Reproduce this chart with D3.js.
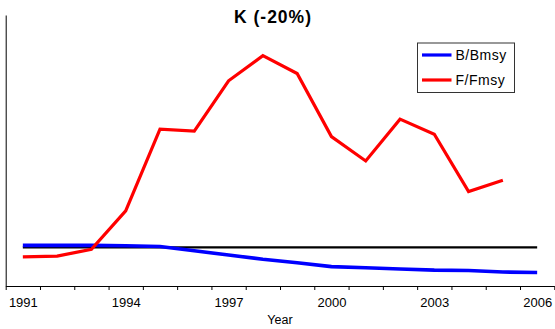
<!DOCTYPE html>
<html>
<head>
<meta charset="utf-8">
<script src="https://cdn.jsdelivr.net/npm/d3@7"></script>
<style>
  html, body { margin: 0; padding: 0; background: #fff; }
  svg { display: block; font-family: "Liberation Sans", Arial, sans-serif; }
</style>
</head>
<body>
<svg id="chart" width="555" height="329"></svg>
<script>
// Stock status ratios by year
const years = d3.range(1991, 2007);
const bBmsy = [1.05, 1.05, 1.05, 1.04, 1.02, 0.91, 0.80, 0.69, 0.60, 0.50, 0.47, 0.44, 0.41, 0.40, 0.36, 0.35];
const fFmsy = [0.75, 0.77, 0.95, 1.94, 4.05, 4.00, 5.30, 5.95, 5.49, 3.86, 3.23, 4.31, 3.92, 2.44, 2.73, null];
const reference = [1, 1];            // ratio of 1 drawn across first..last year
const yearLabels = [1991, 1994, 1997, 2000, 2003, 2006];
const seriesNames = ["B/Bmsy", "F/Fmsy"];
const seriesColors = ["#0000ff", "#ff0000"];

const svg = d3.select("#chart");

// Each year occupies a category slot; points sit at slot centres
const x = d3.scaleLinear().domain([1990.5, 2006.5]).range([5.7, 554.3]);
const y = d3.scaleLinear().domain([0, 7]).range([286, 15]);

// Vertical axis: plain line, no ticks
svg.append("g")
  .attr("transform", `translate(${x.range()[0]},0)`)
  .call(d3.axisLeft(y).tickValues([]).tickSizeOuter(0))
  .call(g => g.select(".domain").attr("stroke", "#000").attr("stroke-width", 1));

// Horizontal axis: ticks at slot boundaries
const boundaries = d3.range(1990.5, 2007.5, 1);
svg.append("g")
  .attr("transform", `translate(0,${y(0)})`)
  .call(d3.axisBottom(x).tickValues(boundaries).tickFormat("").tickSize(4).tickSizeOuter(0))
  .call(g => g.select(".domain").attr("stroke", "#000"))
  .call(g => g.selectAll(".tick line").attr("stroke", "#000"));

// Year labels every third year
svg.append("g")
  .attr("transform", `translate(0,${y(0)})`)
  .call(d3.axisBottom(x).tickValues(yearLabels).tickFormat(d3.format("d")).tickSize(0).tickPadding(12))
  .call(g => g.select(".domain").remove())
  .call(g => g.selectAll("text")
    .attr("font-family", "Liberation Sans, Arial, sans-serif")
    .attr("font-size", 13)
    .attr("fill", "#000"));

// Axis title
svg.append("text")
  .attr("x", 280).attr("y", 324)
  .attr("text-anchor", "middle")
  .attr("font-size", 12.5)
  .text("Year");

// Chart title
svg.append("text")
  .attr("x", 273).attr("y", 23)
  .attr("text-anchor", "middle")
  .attr("font-size", 17.5)
  .attr("font-weight", "bold")
  .attr("letter-spacing", 1)
  .text("K (-20%)");

// Reference line at ratio 1
svg.append("line")
  .attr("x1", x(years[0])).attr("x2", x(years[years.length - 1]))
  .attr("y1", y(reference[0])).attr("y2", y(reference[1]))
  .attr("stroke", "#000").attr("stroke-width", 2.2);

const line = d3.line()
  .defined(d => d.v != null)
  .x(d => x(d.year))
  .y(d => y(d.v));

[bBmsy, fFmsy].forEach((vals, i) => {
  svg.append("path")
    .datum(years.map((yr, j) => ({ year: yr, v: vals[j] })))
    .attr("fill", "none")
    .attr("stroke", seriesColors[i])
    .attr("stroke-width", i === 0 ? 3.6 : 3.2)
    .attr("stroke-linejoin", "miter")
    .attr("d", line);
});

// Legend
const legend = svg.append("g").attr("transform", "translate(417.5,43)");
legend.append("rect")
  .attr("width", 97).attr("height", 49.5)
  .attr("fill", "#fff").attr("stroke", "#333").attr("stroke-width", 1);
seriesNames.forEach((name, i) => {
  const row = legend.append("g").attr("transform", `translate(0,${12 + i * 25})`);
  row.append("line")
    .attr("x1", 4.5).attr("x2", 34)
    .attr("stroke", seriesColors[i]).attr("stroke-width", 3.2);
  row.append("text")
    .attr("x", 38).attr("y", 4.8)
    .attr("font-size", 14)
    .attr("letter-spacing", 0.5)
    .text(name);
});
</script>
</body>
</html>
